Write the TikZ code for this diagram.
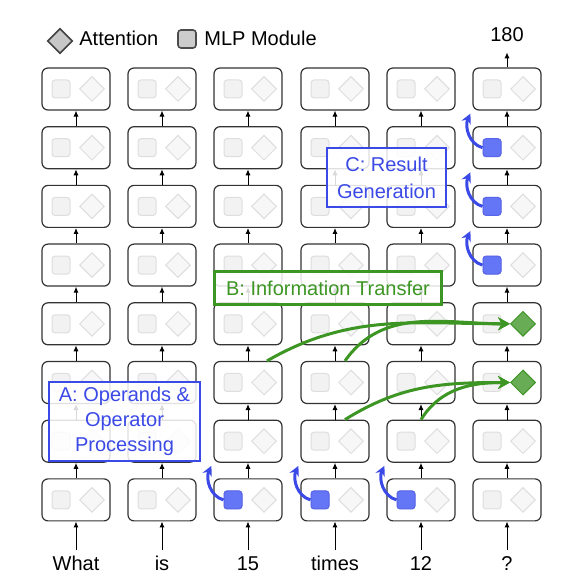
\documentclass[tikz,border=0pt]{standalone}
\usepackage{fontspec}
\setmainfont{Liberation Sans}
\usetikzlibrary{shapes.geometric,arrows.meta}

\definecolor{opblue}{HTML}{3B49E6}
\definecolor{mlpblue}{HTML}{6476F6}
\definecolor{trgreen}{HTML}{3D9624}
\definecolor{attgreen}{HTML}{68AC55}

\tikzset{
  cell/.style={draw=black!80, line width=0.6pt, rounded corners=3pt,
    minimum width=34pt, minimum height=21pt, inner sep=0pt},
  mlp/.style={draw=black!13, fill=black!5, line width=0.5pt, rounded corners=1.5pt,
    minimum size=9pt, inner sep=0pt},
  attn/.style={diamond, aspect=1, draw=black!13, fill=black!3, line width=0.5pt,
    minimum size=12.5pt, inner sep=0pt},
  mlpon/.style={draw=opblue!85, fill=mlpblue},
  atton/.style={draw=trgreen, fill=attgreen},
  txt/.style={font=\fontsize{10}{12.5}\selectfont, inner sep=2pt},
  word/.style={txt, text height=7pt, text depth=2pt, inner sep=3pt},
  flow/.style={-{Latex[length=3pt,width=2.6pt]}, line width=0.5pt},
  gen/.style={draw=opblue, line width=1.5pt, -{Stealth[length=5pt,width=5pt]}},
  transfer/.style={draw=trgreen, line width=1.5pt, -{Stealth[length=6pt,width=6.5pt]}},
  grp/.style={txt, fill=white, fill opacity=0.85, text opacity=1, line width=1.4pt,
    align=center}
}

\begin{document}
\begin{tikzpicture}[x=0.5pt,y=0.5pt]
  \useasboundingbox (0,0) rectangle (570,585);

  % legend
  \node [attn, draw=black!75, fill=black!22, line width=0.8pt] (key-att) at (60,544) {};
  \node [txt, anchor=west] (key-att-t) at (75,547) {Attention};
  \node [mlp, draw=black!70, fill=black!20, line width=0.8pt] (key-mlp) at (187,546) {};
  \node [txt, anchor=west] (key-mlp-t) at (200,547) {MLP Module};

  % layers x tokens
  \foreach \i/\x in {1/76,2/162,3/248,4/335,5/421,6/507}
    \foreach \j in {1,...,8} {
      \node [cell] (c-\i-\j) at (\x,{496-58.7*(\j-1)}) {};
      \node [mlp] (m-\i-\j) at ([xshift=-7.5pt]c-\i-\j.center) {};
      \node [attn] (a-\i-\j) at ([xshift=8pt]c-\i-\j.center) {};
    }

  % active modules
  \foreach \i/\j in {3/8,4/8,5/8,6/2,6/3,6/4}
    \node [mlp, mlpon] (hm-\i-\j) at (m-\i-\j) {};
  \foreach \j in {5,6}
    \node [attn, atton] (ha-6-\j) at (a-6-\j) {};

  % residual stream
  \foreach \i in {1,...,6}
    \foreach \j in {2,...,8} {
      \pgfmathtruncatemacro{\k}{\j-1}
      \draw [flow] (c-\i-\j.north) -- (c-\i-\k.south);
    }

  % tokens
  \foreach \i/\x/\t in {1/76/What,2/162/is,3/248/15,4/335/times,5/421/12,6/507/?} {
    \node [word] (w-\i) at (\x,20) {\t};
    \draw [flow] (w-\i) -- (c-\i-8);
  }
  \node [word] (out) at (507,548) {180};
  \draw [flow] (c-6-1) -- (out);

  % A and C: mlp outputs
  \foreach \i/\j/\k in {3/8/7,4/8/7,5/8/7,6/2/1,6/3/2,6/4/3}
    \draw [gen] (hm-\i-\j.west) to [out=165,in=-115]
      ([shift={(-1pt,-1.5pt)}]c-\i-\k.south west);

  % B: attention moves operands to last token
  \draw [transfer] ([xshift=9.5pt]c-3-6.north) to [out=30,in=180] (ha-6-5);
  \draw [transfer] ([xshift=5pt]c-4-6.north) to [out=55,in=180] (ha-6-5);
  \draw [transfer] ([xshift=5pt]c-4-7.north) to [out=32,in=180] (ha-6-6);
  \draw [transfer] ([xshift=0pt]c-5-7.north) to [out=58,in=180] (ha-6-6);

  % stage labels
  \node [grp, draw=opblue, text=opblue, minimum width=59.5pt, minimum height=29.5pt,
    font=\fontsize{10}{13.5}\selectfont] (lab-c) at (386.5,407.5) {C: Result\\Generation};
  \node [grp, draw=trgreen, text=trgreen, minimum width=113.5pt, minimum height=16.5pt]
    (lab-b) at (328,297) {B: Information Transfer};
  \node [grp, draw=opblue, text=opblue, minimum width=75.5pt, minimum height=39.5pt]
    (lab-a) at (124.5,163.5) {A: Operands \&\\Operator\\Processing};
\end{tikzpicture}
\end{document}
